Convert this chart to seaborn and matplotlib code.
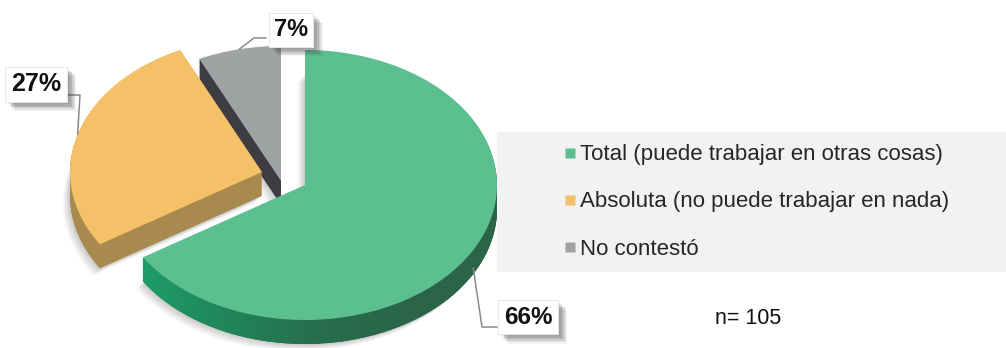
import numpy as np
import matplotlib
matplotlib.use("Agg")
import matplotlib.pyplot as plt
import matplotlib.transforms as mtransforms
import matplotlib.patheffects as pe
from matplotlib.patches import Polygon, Rectangle
from matplotlib.lines import Line2D
import seaborn as sns

# ---- data -------------------------------------------------------------
categories = [
    "Total (puede trabajar en otras cosas)",
    "Absoluta (no puede trabajar en nada)",
    "No contestó",
]
shares = [66, 27, 7]
share_labels = [f"{v}%" for v in shares]
n_total = 105

# ---- style ------------------------------------------------------------
sns.set_theme(style="white")
plt.rcParams["font.family"] = ["Liberation Sans", "DejaVu Sans"]

top_colors = ["#5CBF8F", "#F4C168", "#9FA3A3"]
side_colors = ["#2A6749", "#A8894E", "#3C3C41"]

W, H = 1006, 348
fig = plt.figure(figsize=(W / 100, H / 100), dpi=100)
ax = fig.add_axes([0, 0, 1, 1])

# pie geometry (pixel units, y measured upward)
cx, cy = 305, 163
rx, ry = 192, 135
depth = 24
shift = [(0, 0), (-43, 13), (-24, 4)]


def slice_transform(dx, dy):
    return (mtransforms.Affine2D()
            .translate(-cx, -cy)
            .scale(1, ry / rx)
            .translate(cx + dx, cy + dy)
            + ax.transData)


def draw_layer(colors, dz, alpha=1.0, extra=(0, 0)):
    wedges, _ = ax.pie(shares, colors=colors, startangle=90, counterclock=False,
                       radius=rx, center=(cx, cy), frame=True,
                       wedgeprops=dict(linewidth=0, alpha=alpha))
    for w, (dx, dy) in zip(wedges, shift):
        w.set_transform(slice_transform(dx + extra[0], dy - dz + extra[1]))
    return wedges


# soft shadow under the slices
for k in range(10):
    draw_layer(["#000000"] * 3, depth, alpha=0.018,
               extra=(-1 - k * 0.7, -1 - k * 0.7))

# extruded side walls
for dz in range(depth, 0, -1):
    draw_layer(side_colors, dz)

# shaded front wall of the large slice
angles = np.cumsum([0] + shares) * 3.6
t_end = 90 - angles[1]
t = np.radians(np.linspace(t_end, 0, 120))
upper = np.column_stack([cx + rx * np.cos(t), cy + ry * np.sin(t)])
lower = upper[::-1] - [0, depth]
wall = Polygon(np.vstack([upper, lower]), closed=True, transform=ax.transData,
               facecolor="none", edgecolor="none")
ax.add_patch(wall)
grad = np.linspace(0, 1, 256)[None, :]
wall_cmap = matplotlib.colors.LinearSegmentedColormap.from_list(
    "wall", ["#1DA66C", "#1F8A5B", "#27704E", "#2A6548", "#2A6548"])
img = ax.imshow(grad, cmap=wall_cmap, aspect="auto",
                extent=(cx - rx, cx + rx, cy - ry - depth - 2, cy), zorder=2)
img.set_clip_path(wall)

# top faces
for w in draw_layer(top_colors, 0):
    w.set_zorder(3)

ax.set_aspect("auto")
ax.set_xlim(0, W)
ax.set_ylim(0, H)
ax.axis("off")

# ---- percentage call-outs ----------------------------------------------
mid = 90 - (angles[:-1] + angles[1:]) / 2


def rim_point(i, drop=0.0):
    a = np.radians(mid[i])
    dx, dy = shift[i]
    return cx + dx + rx * np.cos(a), cy + dy + ry * np.sin(a) - drop


box_style = dict(boxstyle="square,pad=0.22", facecolor="white",
                 edgecolor="#e6e6e6", linewidth=0.6)
# blurred drop shadow built from a few offset copies
shadow = [pe.withSimplePatchShadow(offset=(o, -o), shadow_rgbFace="#3a3a3a", alpha=a)
          for o, a in [(7, 0.06), (6, 0.09), (5, 0.12), (4, 0.14), (3, 0.12), (1.5, 0.08)]]
shadow.append(pe.Normal())

label_pos = [(528, H - 317), (36, H - 84), (291, H - 30)]
label_size = [17.5, 18, 17]
elbows = [
    [(497, H - 327), (482, H - 327)],
    [(68, H - 95), (80, H - 95)],
    [(266, H - 38), (254, H - 38)],
]
anchor_drop = [18, 0, 0]

for i in range(3):
    x0, y0 = rim_point(i, anchor_drop[i])
    pts = np.array(elbows[i] + [(x0, y0)])
    ax.plot(pts[:, 0], pts[:, 1], color="#8a8a8a", lw=1.1, zorder=4)
    txt = ax.text(*label_pos[i], share_labels[i], ha="center", va="center",
                  fontsize=label_size[i], fontweight="bold", color="#111111",
                  bbox=box_style, zorder=5)
    txt.get_bbox_patch().set_path_effects(shadow)

# ---- legend -------------------------------------------------------------
ax.add_patch(Rectangle((497, H - 272), W - 497, 140, facecolor="#F2F2F2",
                       edgecolor="none", zorder=1))
handles = [Line2D([], [], linestyle="none", marker="s", markersize=6.6,
                  markerfacecolor=c, markeredgecolor="none") for c in top_colors]
ax.legend(handles, categories, loc="center left",
          bbox_to_anchor=(565 / W, (H - 202) / H), frameon=False,
          fontsize=16, handlelength=0.42, handletextpad=0.25,
          labelspacing=1.18, borderpad=0, borderaxespad=0)

ax.text(715, H - 318, f"n= {n_total}", ha="left", va="center", fontsize=15.5,
        color="#111111")

fig.savefig("out.png", dpi=100)
